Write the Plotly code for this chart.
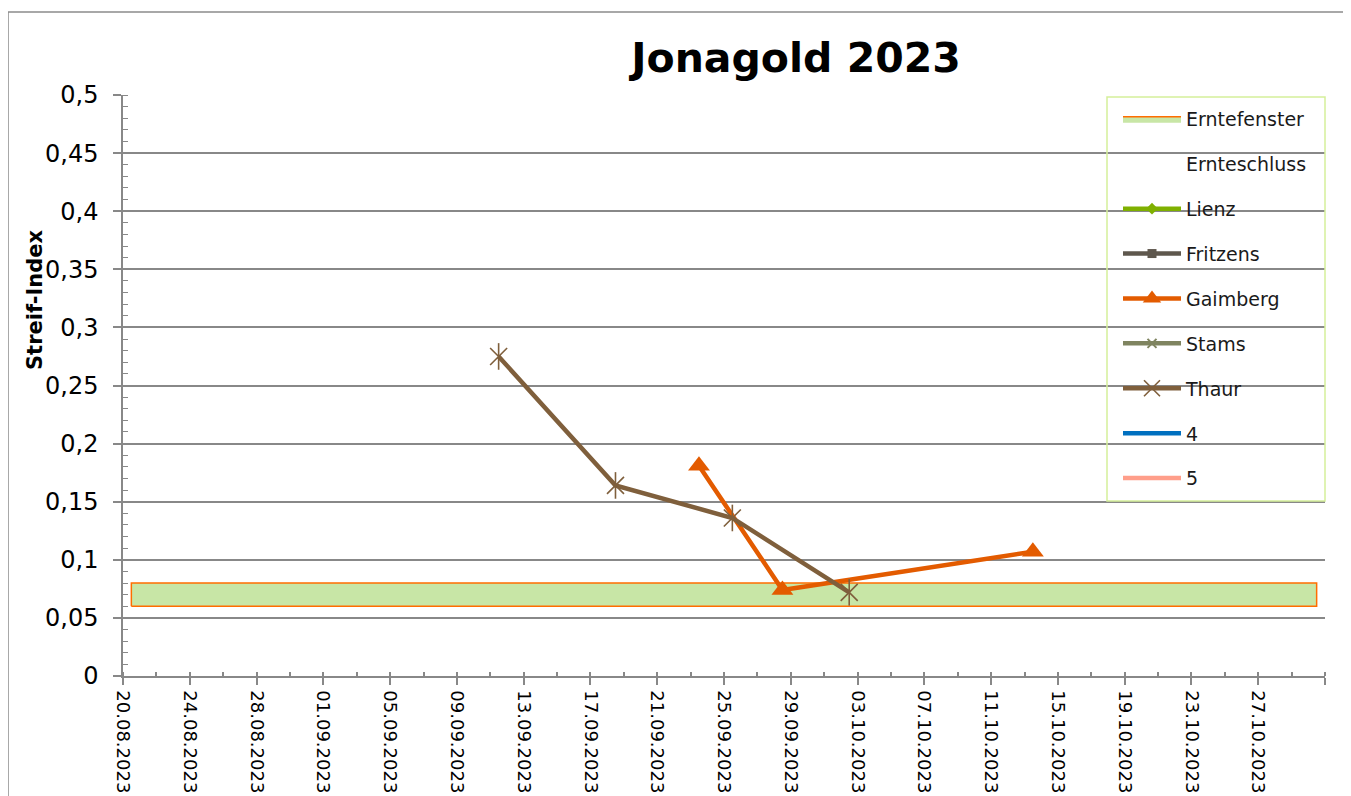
import pandas as pd
import plotly.graph_objects as go

# ---------------- data ----------------
thaur_dates = ["2023-09-11", "2023-09-18", "2023-09-25", "2023-10-02"]
thaur_values = [0.275, 0.164, 0.136, 0.072]

gaimberg_dates = ["2023-09-23", "2023-09-28", "2023-10-13"]
gaimberg_values = [0.181, 0.074, 0.107]

window_dates = ["2023-08-20", "2023-10-30"]   # Erntefenster start / end
window_low = 0.06
window_high = 0.08

axis_start = "2023-08-20"
axis_end = "2023-10-31"
y_max = 0.5

# ---------------- styling ----------------
FONT = "DejaVu Sans"
GRID = "#888888"
colors = {
    "Lienz": "#7fb000",
    "Fritzens": "#5e574d",
    "Gaimberg": "#e35b00",
    "Stams": "#7f8460",
    "Thaur": "#7f5f3c",
    "4": "#0070c0",
    "5": "#ff9e8a",
}
symbols = {"Lienz": "diamond", "Fritzens": "square", "Stams": "x-thin-open"}

# Excel date axis places points in the middle of each day ("between tick marks")
half = pd.Timedelta(hours=12)
def mid(dates):
    return [d + half for d in pd.to_datetime(dates)]

fig = go.Figure()

# Erntefenster band
ws, we = mid(window_dates)
fig.add_trace(go.Scatter(
    x=[ws, we, we, ws, ws],
    y=[window_low, window_low, window_high, window_high, window_low],
    mode="lines", fill="toself", fillcolor="#c8e6a6",
    line=dict(color="#ff6d00", width=1.5),
    name="Erntefenster", legendgroup="g0", hoverinfo="skip",
))

# Ernteschluss (no visible mark)
fig.add_trace(go.Scatter(
    x=[None], y=[None], mode="lines",
    line=dict(color="rgba(0,0,0,0)", width=4),
    name="Ernteschluss", legendgroup="g1",
))

def empty(name, grp):
    m = dict(color=colors[name], size=9)
    mode = "lines"
    if name in symbols:
        mode = "lines+markers"
        m["symbol"] = symbols[name]
        if symbols[name].endswith("open"):
            m["line"] = dict(color=colors[name], width=2)
    fig.add_trace(go.Scatter(
        x=[None], y=[None], mode=mode, marker=m,
        line=dict(color=colors[name], width=4.5),
        name=name, legendgroup=grp,
    ))

empty("Lienz", "g2")
empty("Fritzens", "g3")

fig.add_trace(go.Scatter(
    x=mid(gaimberg_dates), y=gaimberg_values, mode="lines+markers",
    line=dict(color=colors["Gaimberg"], width=4.5),
    marker=dict(symbol="triangle-up", size=19, color=colors["Gaimberg"]),
    name="Gaimberg", legendgroup="g4",
))

empty("Stams", "g5")

fig.add_trace(go.Scatter(
    x=mid(thaur_dates), y=thaur_values, mode="lines+markers",
    line=dict(color=colors["Thaur"], width=4.5),
    marker=dict(symbol="x-thin-open", size=17, color=colors["Thaur"],
                line=dict(color=colors["Thaur"], width=1.6)),
    name="Thaur", legendgroup="g6",
))
fig.add_trace(go.Scatter(
    x=mid(thaur_dates), y=thaur_values, mode="markers",
    marker=dict(symbol="line-ns-open", size=19, color=colors["Thaur"],
                line=dict(color=colors["Thaur"], width=1.6)),
    showlegend=False, hoverinfo="skip", legendgroup="g6",
))

empty("4", "g7")
empty("5", "g8")

# ---------------- layout ----------------
# page has an 8px body margin: figure origin sits at (8, 8) of the screenshot
OFF = 8
W, H = 1351 - OFF, 796 - OFF
PL, PR, PT, PB = 123, 1325, 95, 676          # plot area in page pixels
L, R, T, B = PL - OFF, W - (PR - OFF), PT - OFF, H - (PB - OFF)
pw, ph = W - L - R, H - T - B
def px_x(px):
    return (px - OFF - L) / pw
def px_y(py):
    return (H - B - (py - OFF)) / ph

tickvals = pd.date_range(axis_start, axis_end, freq="4D")
ticktext = [d.strftime("%d.%m.%Y") for d in tickvals]
ticktext[-1] = ""

fig.update_layout(
    width=W, height=H,
    margin=dict(l=L, r=R, t=T, b=B, autoexpand=False),
    paper_bgcolor="white", plot_bgcolor="white",
    separators=",.",
    font=dict(family=FONT, color="black"),
    title=dict(text="<b>Jonagold 2023</b>", font=dict(size=41, family=FONT, color="black"),
               xref="container", x=(796 - OFF) / W, xanchor="center",
               yref="container", y=1 - (58 - OFF) / H, yanchor="middle"),
    legend=dict(
        x=px_x(1118), y=px_y(100), xanchor="left", yanchor="top",
        bgcolor="rgba(0,0,0,0)", borderwidth=0,
        font=dict(size=19, family=FONT, color="#1a1a1a"),
        traceorder="grouped", tracegroupgap=17.2, itemwidth=58,
    ),
    showlegend=True,
)

fig.update_xaxes(
    type="date", range=[axis_start, axis_end], automargin=False,
    tickmode="array", tickvals=tickvals, ticktext=ticktext,
    tickangle=90, tickfont=dict(size=18, family=FONT, color="black"),
    ticks="outside", ticklen=7, tickwidth=1.5, tickcolor=GRID,
    ticklabelstandoff=2,
    minor=dict(dtick=2 * 86400000, tick0=axis_start, ticks="inside", ticklen=4,
               tickwidth=1.5, tickcolor=GRID, showgrid=False),
    showline=True, linecolor=GRID, linewidth=1.5,
    showgrid=False, zeroline=False,
)
fig.update_yaxes(
    range=[0, y_max], dtick=0.05, tick0=0, automargin=False,
    tickfont=dict(size=24, family=FONT, color="black"),
    ticks="outside", ticklen=8, tickwidth=1.5, tickcolor=GRID,
    ticklabelstandoff=10,
    minor=dict(dtick=0.01, ticks="inside", ticklen=5, tickwidth=1.2,
               tickcolor=GRID, showgrid=False),
    showline=True, linecolor=GRID, linewidth=1.5,
    showgrid=True, gridcolor=GRID, gridwidth=1.5, zeroline=False,
)

# y-axis title
fig.add_annotation(
    text="<b>Streif-Index</b>", textangle=-90, showarrow=False,
    xref="paper", yref="paper", x=px_x(35), y=px_y(300),
    xanchor="center", yanchor="middle",
    font=dict(size=21, family=FONT, color="black"),
)

# legend frame
fig.add_shape(type="rect", xref="paper", yref="paper",
              x0=px_x(1107), x1=px_x(1325), y0=px_y(501), y1=px_y(97),
              line=dict(color="#d5ef9a", width=1.5), fillcolor="rgba(0,0,0,0)",
              layer="above")
# chart area frame
fig.add_shape(type="rect", xref="paper", yref="paper",
              x0=px_x(8), x1=px_x(1400), y0=px_y(900), y1=px_y(12),
              line=dict(color="#8c8c8c", width=1.5), fillcolor="rgba(0,0,0,0)",
              layer="above")

fig.write_html("out.html")
